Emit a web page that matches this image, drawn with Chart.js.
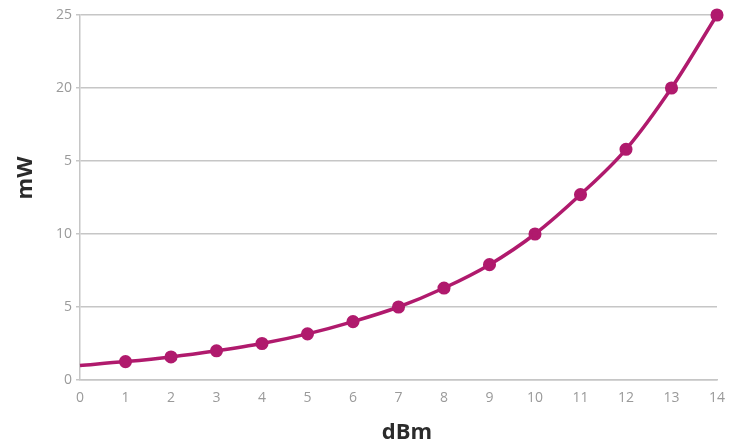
<!DOCTYPE html>
<html>
<head>
<meta charset="utf-8">
<script src="https://cdn.jsdelivr.net/npm/chart.js@4"></script>
<style>
  html, body { margin: 0; padding: 0; background: #fff; }
  #wrap { width: 740px; height: 444px; }
</style>
</head>
<body>
<div id="wrap"><canvas id="chart" width="740" height="444"></canvas></div>
<script>
const dbm = [0, 1, 2, 3, 4, 5, 6, 7, 8, 9, 10, 11, 12, 13, 14];
const mw = [1.0, 1.26, 1.58, 2.0, 2.5, 3.16, 4.0, 5.0, 6.3, 7.9, 10.0, 12.7, 15.8, 20.0, 25.0];
const yTickValues = [0, 5, 10, 15, 20, 25];
const yTickLabels = ["0", "5", "10", "5", "20", "25"];
const xTitle = "dBm";
const yTitle = "mW";

const lineColor = "#b01a6d";
const tickColor = "#9a9a9a";
const gridColor = "#c6c6c6";
const titleColor = "#2b2b2b";
const titleFont = "bold 22px 'Open Sans'";

// axis titles sit off-centre in the original, so draw them by hand
const axisTitles = {
  id: "axisTitles",
  afterDraw(chart) {
    const ctx = chart.ctx;
    ctx.save();
    ctx.font = titleFont;
    ctx.fillStyle = titleColor;
    ctx.textAlign = "center";
    ctx.textBaseline = "middle";
    ctx.fillText(xTitle, 407, 433);
    ctx.translate(26, 178);
    ctx.rotate(-Math.PI / 2);
    ctx.fillText(yTitle, 0, 0);
    ctx.restore();
  },
};

new Chart(document.getElementById("chart"), {
  type: "line",
  data: {
    datasets: [
      {
        data: dbm.map((x, i) => ({ x, y: mw[i] })),
        borderColor: lineColor,
        backgroundColor: lineColor,
        borderWidth: 3.5,
        pointRadius: dbm.map((x) => (x === 0 ? 0 : 4.8)),
        pointHoverRadius: 5,
        tension: 0.4,
        cubicInterpolationMode: "monotone",
        fill: false,
        clip: false,
      },
    ],
  },
  options: {
    responsive: false,
    animation: false,
    layout: { padding: { top: 15, right: 23, bottom: 0, left: 0 } },
    plugins: { legend: { display: false }, tooltip: { enabled: false } },
    scales: {
      x: {
        type: "linear",
        min: 0,
        max: 14,
        afterBuildTicks: (s) => { s.ticks = dbm.map((v) => ({ value: v })); },
        afterFit: (s) => { s.height = 64; },
        grid: { display: false },
        border: { display: true, color: gridColor, width: 1.5 },
        ticks: {
          color: tickColor,
          font: { family: "Open Sans", size: 14 },
          padding: 2,
          maxRotation: 0,
          autoSkip: false,
        },
      },
      y: {
        min: 0,
        max: 25,
        afterBuildTicks: (s) => { s.ticks = yTickValues.map((v) => ({ value: v })); },
        afterFit: (s) => { s.width = 80; },
        grid: { color: gridColor, lineWidth: 1.5, tickLength: 4, drawTicks: true },
        border: { display: true, color: gridColor, width: 1.5 },
        ticks: {
          color: tickColor,
          font: { family: "Open Sans", size: 14 },
          padding: 4,
          callback: (v) => yTickLabels[yTickValues.indexOf(v)],
        },
      },
    },
  },
  plugins: [axisTitles],
});
</script>
</body>
</html>
